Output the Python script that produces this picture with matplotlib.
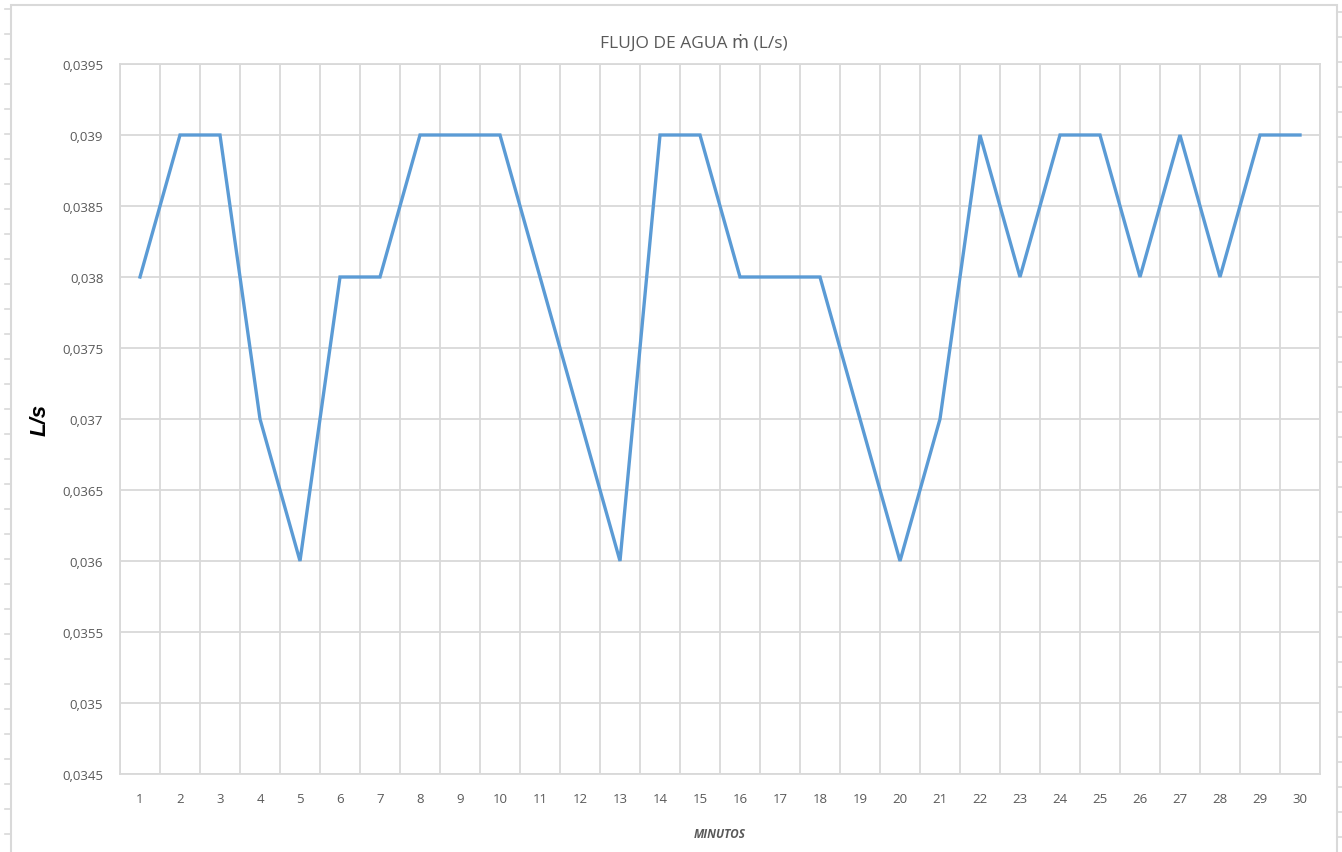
import matplotlib.pyplot as plt
from matplotlib.ticker import FixedLocator, FuncFormatter
from matplotlib.patches import Rectangle
from matplotlib.lines import Line2D

# minutes and water flow (L/s)
minutes = list(range(1, 31))
flow = [0.038, 0.039, 0.039, 0.037, 0.036, 0.038, 0.038, 0.039, 0.039, 0.039,
        0.038, 0.037, 0.036, 0.039, 0.039, 0.038, 0.038, 0.038, 0.037, 0.036,
        0.037, 0.039, 0.038, 0.039, 0.039, 0.038, 0.039, 0.038, 0.039, 0.039]
y_ticks = [0.0345, 0.035, 0.0355, 0.036, 0.0365, 0.037, 0.0375, 0.038, 0.0385, 0.039, 0.0395]

plt.rcParams['font.family'] = ['Open Sans', 'DejaVu Sans']
grid_c = '#d9d9d9'
text_c = '#595959'

fig = plt.figure(figsize=(13.42, 8.53), dpi=100)
ax = fig.add_axes([120/1342, 1-775/853, 1200/1342, 710/853])

ax.plot(minutes, flow, color='#5b9bd5', linewidth=2.4, solid_joinstyle='miter')

ax.set_xlim(0.5, 30.5)
ax.set_ylim(0.0345, 0.0395)
ax.set_xticks(minutes)
ax.xaxis.set_minor_locator(FixedLocator([m + 0.5 for m in range(0, 31)]))
ax.set_yticks(y_ticks)
ax.yaxis.set_major_formatter(FuncFormatter(lambda v, p: f"{round(v, 5):g}".replace('.', ',')))
ax.grid(True, axis='y', which='major', color=grid_c, linewidth=1.3)
ax.grid(True, axis='x', which='minor', color=grid_c, linewidth=1.3)
ax.set_axisbelow(True)
ax.tick_params(which='both', length=0, labelsize=9.5, labelcolor=text_c)
ax.tick_params(axis='x', pad=13)
ax.tick_params(axis='y', pad=12)
for s in ax.spines.values():
    s.set_color(grid_c)
    s.set_linewidth(1.3)

ax.set_title("FLUJO DE AGUA ṁ (L/s)", fontsize=12.5, color=text_c, x=(694-120)/1200, y=1.0, pad=12)
ax.set_xlabel("MINUTOS", fontsize=8.5, color=text_c, style='italic', fontweight='bold', labelpad=16)
ax.set_ylabel("L/s", fontsize=16, color='black', style='italic', fontweight='bold',
              family=['Liberation Sans', 'DejaVu Sans'])
ax.yaxis.set_label_coords((51-120)/1200, 0.5)

# chart area border with sheet ruler ticks
fig.patches.append(Rectangle((11/1342, -0.01), 1326/1342, 1-6/853 + 0.01,
                             transform=fig.transFigure, fill=False,
                             edgecolor=grid_c, linewidth=1.5))
for yp in range(10, 853, 25):
    fig.lines.append(Line2D([5/1342, 11/1342], [1-yp/853, 1-yp/853],
                            transform=fig.transFigure, color=grid_c, linewidth=1.2))
for yp in range(13, 853, 25):
    fig.lines.append(Line2D([1337/1342, 1342/1342], [1-yp/853, 1-yp/853],
                            transform=fig.transFigure, color=grid_c, linewidth=1.2))

fig.savefig('out.png', dpi=100)
